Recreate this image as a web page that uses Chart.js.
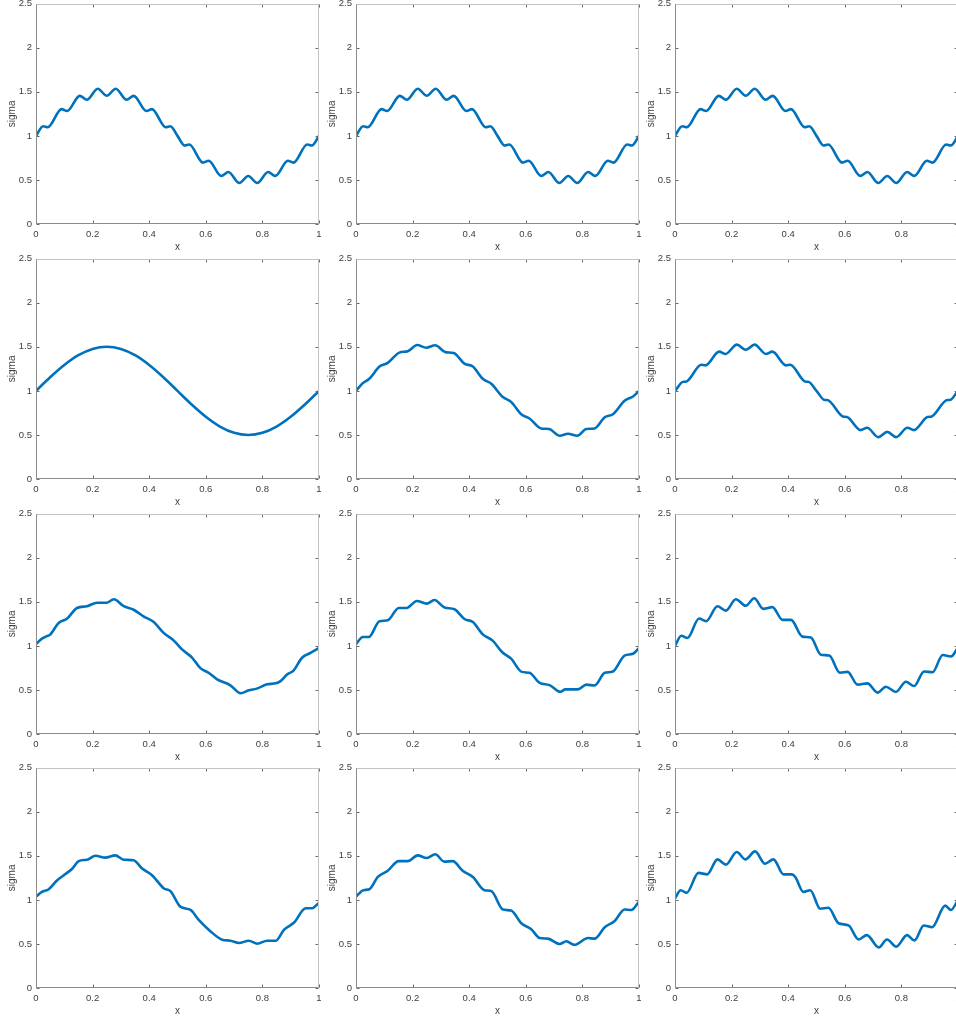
<!DOCTYPE html>
<html>
<head>
<meta charset="utf-8">
<title>sigma</title>
<script src="https://cdn.jsdelivr.net/npm/chart.js@4.4.1/dist/chart.umd.min.js"></script>
<style>
  html, body { margin: 0; padding: 0; background: #fff; }
  body { width: 956px; height: 1020px; overflow: hidden; position: relative; }
  canvas { position: absolute; }
</style>
</head>
<body>
<script>
// ---------- ticks ----------
const xTicks = [0, 0.2, 0.4, 0.6, 0.8, 1];
const yTicks = [0, 0.5, 1, 1.5, 2, 2.5];

// ---------- row 1 (all three panels the same curve) ----------
const xA = [0, 0.0254, 0.0415, 0.0905, 0.11, 0.1546, 0.1799, 0.2182, 0.25, 0.2818, 0.3201,
  0.3454, 0.39, 0.4095, 0.4585, 0.4746, 0.5, 0.5254, 0.5415, 0.5905, 0.61, 0.6546, 0.6799,
  0.7182, 0.75, 0.7818, 0.8201, 0.8454, 0.89, 0.9095, 0.9585, 0.9746, 1];
const sigmaA = [1.0, 1.11, 1.098, 1.304, 1.282, 1.454, 1.41, 1.535, 1.455, 1.535, 1.41,
  1.454, 1.282, 1.304, 1.098, 1.11, 1.0, 0.89, 0.902, 0.696, 0.718, 0.546, 0.59,
  0.465, 0.545, 0.465, 0.59, 0.546, 0.718, 0.696, 0.902, 0.89, 1.0];

// ---------- row 2 ----------
const xExact = [0, 0.05, 0.1, 0.15, 0.2, 0.25, 0.3, 0.35, 0.4, 0.45, 0.5,
  0.55, 0.6, 0.65, 0.7, 0.75, 0.8, 0.85, 0.9, 0.95, 1];
const sigmaExact = [1.0, 1.155, 1.294, 1.405, 1.476, 1.5, 1.476, 1.405, 1.294, 1.155, 1.0,
  0.845, 0.706, 0.595, 0.524, 0.5, 0.524, 0.595, 0.706, 0.845, 1.0];

const xB = [0, 0.024, 0.047, 0.083, 0.112, 0.153, 0.183, 0.216, 0.248, 0.28, 0.316, 0.345,
  0.383, 0.413, 0.448, 0.478, 0.519, 0.548, 0.584, 0.613, 0.654, 0.682, 0.72, 0.749,
  0.782, 0.814, 0.843, 0.879, 0.908, 0.95, 0.979, 1];
const sigmaB = [1.0, 1.088, 1.137, 1.276, 1.317, 1.434, 1.45, 1.52, 1.49, 1.517, 1.44, 1.43,
  1.31, 1.276, 1.137, 1.08, 0.93, 0.875, 0.735, 0.687, 0.574, 0.567, 0.49, 0.514,
  0.49, 0.567, 0.574, 0.7, 0.735, 0.89, 0.937, 1.0];

const xC = [0, 0.0294, 0.0373, 0.0931, 0.1078, 0.156, 0.1788, 0.2187, 0.25, 0.2813, 0.3212,
  0.344, 0.3922, 0.4069, 0.4627, 0.4706, 0.5, 0.5294, 0.5373, 0.5931, 0.6078, 0.656,
  0.6788, 0.7187, 0.75, 0.7813, 0.8212, 0.844, 0.8922, 0.9069, 0.9627, 0.9706, 1];
const sigmaC = [1.0, 1.104, 1.1035, 1.297, 1.29, 1.445, 1.419, 1.525, 1.465, 1.525, 1.419,
  1.445, 1.29, 1.297, 1.1035, 1.104, 1.0, 0.896, 0.8965, 0.71, 0.703, 0.555,
  0.581, 0.475, 0.535, 0.475, 0.581, 0.555, 0.703, 0.71, 0.8965, 0.896, 1.0];

// ---------- row 3 ----------
const xD = [0, 0.021, 0.039, 0.05, 0.08, 0.11, 0.145, 0.18, 0.216, 0.249, 0.275, 0.31, 0.345,
  0.38, 0.416, 0.45, 0.487, 0.516, 0.552, 0.58, 0.61, 0.64, 0.687, 0.723, 0.752, 0.78,
  0.817, 0.847, 0.864, 0.888, 0.91, 0.94, 0.97, 1];
const sigmaD = [1.02, 1.083, 1.11, 1.128, 1.26, 1.31, 1.43, 1.45, 1.49, 1.49, 1.53, 1.45, 1.41,
  1.335, 1.27, 1.15, 1.06, 0.96, 0.865, 0.75, 0.695, 0.62, 0.553, 0.462, 0.496, 0.515,
  0.564, 0.575, 0.6, 0.677, 0.72, 0.865, 0.92, 0.977];

const xE = [0, 0.024, 0.045, 0.083, 0.112, 0.151, 0.179, 0.215, 0.25, 0.277, 0.313, 0.348,
  0.383, 0.413, 0.448, 0.483, 0.516, 0.548, 0.586, 0.613, 0.649, 0.684, 0.722, 0.74,
  0.784, 0.814, 0.843, 0.879, 0.908, 0.949, 0.979, 1];
const sigmaE = [1.02, 1.1, 1.1, 1.28, 1.29, 1.43, 1.43, 1.51, 1.48, 1.52, 1.435, 1.415,
  1.305, 1.27, 1.13, 1.06, 0.93, 0.855, 0.705, 0.694, 0.58, 0.555, 0.478, 0.506,
  0.506, 0.56, 0.55, 0.694, 0.71, 0.89, 0.91, 0.976];

const xF = [0, 0.022, 0.044, 0.085, 0.11, 0.15, 0.18, 0.215, 0.25, 0.28, 0.312, 0.344,
  0.38, 0.41, 0.45, 0.48, 0.515, 0.545, 0.583, 0.61, 0.645, 0.68, 0.716, 0.745,
  0.78, 0.816, 0.845, 0.88, 0.91, 0.946, 0.975, 1];
const sigmaF = [1.0, 1.115, 1.09, 1.31, 1.28, 1.45, 1.4, 1.53, 1.455, 1.54, 1.42, 1.44,
  1.295, 1.295, 1.105, 1.095, 0.9, 0.89, 0.695, 0.705, 0.56, 0.575, 0.47, 0.537,
  0.477, 0.593, 0.544, 0.71, 0.7, 0.897, 0.88, 0.98];

// ---------- row 4 ----------
const xG = [0, 0.021, 0.045, 0.074, 0.098, 0.127, 0.151, 0.18, 0.21, 0.245, 0.28, 0.31, 0.345,
  0.375, 0.41, 0.452, 0.475, 0.51, 0.546, 0.575, 0.617, 0.658, 0.687, 0.717, 0.752,
  0.782, 0.817, 0.847, 0.876, 0.912, 0.953, 0.976, 1];
const sigmaG = [1.036, 1.09, 1.12, 1.22, 1.28, 1.35, 1.44, 1.456, 1.5, 1.48, 1.505, 1.456, 1.45,
  1.355, 1.28, 1.13, 1.1, 0.923, 0.886, 0.773, 0.642, 0.548, 0.537, 0.51, 0.537,
  0.503, 0.537, 0.537, 0.66, 0.743, 0.905, 0.905, 0.968];

const xH = [0, 0.026, 0.047, 0.077, 0.112, 0.151, 0.183, 0.218, 0.25, 0.28, 0.312, 0.342,
  0.377, 0.413, 0.454, 0.478, 0.519, 0.548, 0.584, 0.619, 0.649, 0.678, 0.72, 0.743,
  0.772, 0.82, 0.843, 0.879, 0.914, 0.949, 0.973, 1];
const sigmaH = [1.036, 1.11, 1.12, 1.26, 1.33, 1.44, 1.44, 1.505, 1.475, 1.517, 1.434, 1.44,
  1.33, 1.26, 1.11, 1.1, 0.89, 0.88, 0.735, 0.668, 0.567, 0.56, 0.5, 0.53,
  0.49, 0.567, 0.56, 0.69, 0.76, 0.89, 0.885, 0.98];

const xI = [0, 0.02, 0.041, 0.083, 0.114, 0.15, 0.18, 0.218, 0.249, 0.283, 0.318, 0.348,
  0.383, 0.413, 0.425, 0.454, 0.478, 0.513, 0.542, 0.578, 0.613, 0.649, 0.678, 0.72,
  0.749, 0.782, 0.82, 0.846, 0.879, 0.908, 0.955, 0.975, 1];
const sigmaI = [1.017, 1.11, 1.08, 1.306, 1.29, 1.46, 1.4, 1.543, 1.46, 1.55, 1.41, 1.46,
  1.29, 1.29, 1.26, 1.09, 1.11, 0.9, 0.91, 0.735, 0.71, 0.55, 0.6, 0.46,
  0.55, 0.47, 0.6, 0.54, 0.71, 0.69, 0.935, 0.885, 1.0];

// panel order: row by row, left to right
const panelSeries = [
  [xA, sigmaA], [xA, sigmaA], [xA, sigmaA],
  [xExact, sigmaExact], [xB, sigmaB], [xC, sigmaC],
  [xD, sigmaD], [xE, sigmaE], [xF, sigmaF],
  [xG, sigmaG], [xH, sigmaH], [xI, sigmaI],
];

// ---------- layout ----------
const colLeft = [0, 320, 639];
const rowTop = [-6, 249, 504, 758];
const CANVAS_W = 329;
const CANVAS_H = 260;

const textColor = "#404040";
const fontFamily = "'Liberation Sans', Arial, Helvetica, sans-serif";

// box + inward ticks, MATLAB style
const matlabBox = {
  id: "matlabBox",
  afterDraw(chart) {
    const { ctx, chartArea: a, scales } = chart;
    const xs = scales.x;
    const ys = scales.y;
    const L = Math.round(a.left) + 0.5;
    const R = Math.round(a.right) - 0.5;
    const T = Math.round(a.top) + 0.5;
    const B = Math.round(a.bottom) - 0.5;
    ctx.save();
    ctx.lineWidth = 1;

    // tick marks
    ctx.strokeStyle = "#6a6a6a";
    ctx.beginPath();
    xs.ticks.forEach((t) => {
      const px = Math.round(xs.getPixelForValue(t.value)) + 0.5;
      ctx.moveTo(px, B);
      ctx.lineTo(px, B - 3);
      ctx.moveTo(px, T);
      ctx.lineTo(px, T + 3);
    });
    ys.ticks.forEach((t) => {
      const py = Math.round(ys.getPixelForValue(t.value)) + 0.5;
      ctx.moveTo(L, py);
      ctx.lineTo(L + 3, py);
      ctx.moveTo(R, py);
      ctx.lineTo(R - 3, py);
    });
    ctx.stroke();

    // top + right edges (lighter)
    ctx.strokeStyle = "#c4c4c4";
    ctx.beginPath();
    ctx.moveTo(L, T);
    ctx.lineTo(R, T);
    ctx.lineTo(R, B);
    ctx.stroke();

    // left + bottom edges
    ctx.strokeStyle = "#8c8c8c";
    ctx.beginPath();
    ctx.moveTo(L, T);
    ctx.lineTo(L, B);
    ctx.lineTo(R, B);
    ctx.stroke();
    ctx.restore();
  },
};

const fmt = (v) => String(Math.round(v * 10) / 10);

function criarPainel(index) {
  const row = Math.floor(index / 3);
  const col = index % 3;
  const [xs, ys] = panelSeries[index];

  const canvas = document.createElement("canvas");
  canvas.width = CANVAS_W;
  canvas.height = CANVAS_H;
  canvas.style.left = colLeft[col] + "px";
  canvas.style.top = rowTop[row] + "px";
  document.body.appendChild(canvas);

  new Chart(canvas.getContext("2d"), {
    type: "line",
    data: {
      datasets: [
        {
          data: xs.map((x, i) => ({ x: x, y: ys[i] })),
          borderColor: "#0072BD",
          borderWidth: 2.6,
          pointRadius: 0,
          fill: false,
          cubicInterpolationMode: "monotone",
        },
      ],
    },
    options: {
      responsive: false,
      animation: false,
      devicePixelRatio: 1,
      layout: { padding: { left: 0, top: 8, right: 10, bottom: 0 } },
      plugins: {
        legend: { display: false },
        tooltip: { enabled: false },
      },
      scales: {
        x: {
          type: "linear",
          min: 0,
          max: 1,
          afterBuildTicks: (s) => {
            s.ticks = xTicks.map((v) => ({ value: v }));
          },
          afterFit: (s) => {
            s.height = 30;
          },
          ticks: {
            autoSkip: false,
            maxRotation: 0,
            padding: 5,
            color: textColor,
            font: { family: fontFamily, size: 9.5 },
            callback: fmt,
          },
          grid: { display: false, drawTicks: false },
          border: { display: false },
          title: {
            display: true,
            text: "x",
            color: textColor,
            font: { family: fontFamily, size: 10 },
            padding: { top: 0, bottom: 1 },
          },
        },
        y: {
          type: "linear",
          min: 0,
          max: 2.5,
          afterBuildTicks: (s) => {
            s.ticks = yTicks.map((v) => ({ value: v }));
          },
          afterFit: (s) => {
            s.width = 36;
          },
          ticks: {
            autoSkip: false,
            padding: 4,
            color: textColor,
            font: { family: fontFamily, size: 9.5 },
            callback: fmt,
          },
          grid: { display: false, drawTicks: false },
          border: { display: false },
          title: {
            display: true,
            text: "sigma",
            color: textColor,
            font: { family: fontFamily, size: 10 },
            padding: { top: 6, bottom: 0 },
          },
        },
      },
    },
    plugins: [matlabBox],
  });
}

document.addEventListener("DOMContentLoaded", function () {
  for (let i = 0; i < panelSeries.length; i++) criarPainel(i);
});
</script>
</body>
</html>
